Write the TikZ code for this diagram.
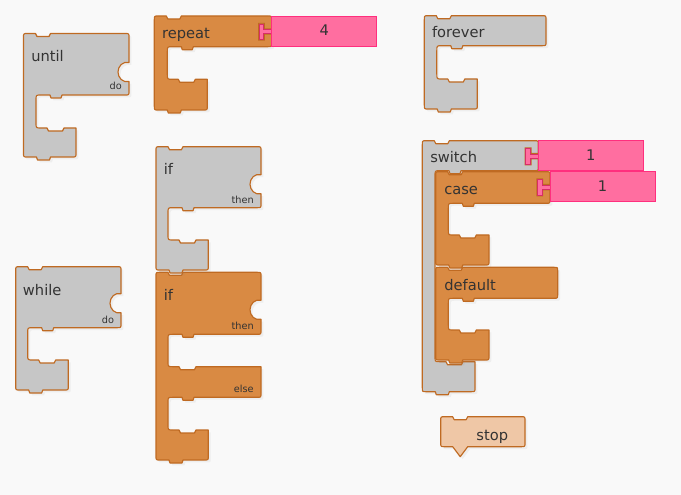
\documentclass[tikz,border=0pt]{standalone}
\usepackage{fontspec}
\setmainfont{DejaVu Sans}
\usetikzlibrary{shadows}
\definecolor{bgc}{HTML}{F9F9F9}
\definecolor{gfill}{HTML}{C6C6C6}
\definecolor{ofill}{HTML}{D98A43}
\definecolor{sfill}{HTML}{EFC7A6}
\definecolor{edgec}{HTML}{BF6A22}
\definecolor{pfill}{HTML}{FF6EA0}
\definecolor{pedge}{HTML}{FF2F7E}
\definecolor{pedgetab}{HTML}{D62F66}
\definecolor{txtc}{HTML}{333333}
\tikzset{
  blk/.style={draw=edgec, line width=0.85pt, line join=round,
    drop shadow={shadow xshift=1.8pt, shadow yshift=-1.8pt, opacity=0.09}},
  gblk/.style={blk, fill=gfill},
  oblk/.style={blk, fill=ofill},
  sblk/.style={blk, fill=sfill},
  lbl/.style={inner sep=0pt, text=txtc, font=\fontsize{11}{13}\selectfont},
  slbl/.style={inner sep=0pt, text=txtc, font=\fontsize{7.3}{9}\selectfont},
  valst/.style={fill=pfill, draw=pedge, line width=0.7pt},
  tabst/.style={fill=pfill, draw=pedgetab, line width=0.6pt},
}
% C-shaped block in local coordinates:
% #1 style, #2 W, #3 h1 (arm bottom), #4 xi, #5 y2, #6 xb, #7 y3, #8 notch centre, #9 notch depth
\newcommand\Cpath[9]{%
  \path[#1] (0,4) .. controls (0,0) .. (4,0) -- (12,0) -- (13.5,3) -- (25.5,3) -- (27,0)
   -- (#2-4,0) .. controls (#2,0) .. (#2,4)
   -- (#2,#8-9.5) .. controls (#2-0.55*#9,#8-11) and (#2-#9,#8-6) .. (#2-#9,#8)
      .. controls (#2-#9,#8+6) and (#2-0.55*#9,#8+11) .. (#2,#8+9.5)
   -- (#2,#3-4) .. controls (#2,#3) .. (#2-4,#3)
   -- (#4+26,#3) -- (#4+25,#3+3) -- (#4+15,#3+3) -- (#4+14,#3)
   -- (#4+5,#3) .. controls (#4,#3) .. (#4,#3+5)
   -- (#4,#5-5) .. controls (#4,#5) .. (#4+5,#5)
   -- (#4+11,#5) -- (#4+12.5,#5+3) -- (#4+26.5,#5+3) -- (#4+28,#5)
   -- (#6,#5) -- (#6,#7-4) .. controls (#6,#7) .. (#6-4,#7)
   -- (27,#7) -- (26,#7+3) -- (14,#7+3) -- (13,#7)
   -- (4,#7) .. controls (0,#7) .. (0,#7-4) -- cycle;}
% value input: #1 W, #2 text, #3 node name
\newcommand\Vin[3]{%
  \path[fill=edgec] (#1-13.7,6.8) -- (#1-6.8,6.8) -- (#1-6.8,12.3) -- (#1,12.3)
     -- (#1,18.7) -- (#1-6.8,18.7) -- (#1-6.8,24.7) -- (#1-13.7,24.7) -- cycle;
  \path[tabst] (#1-12.5,8) -- (#1-8,8) -- (#1-8,13.5) -- (#1+0.5,13.5) -- (#1+0.5,17.5)
     -- (#1-8,17.5) -- (#1-8,23.5) -- (#1-12.5,23.5) -- cycle;
  \path[valst] (#1,0) rectangle (#1+105,30);
  \node[lbl, anchor=base] (#3) at (#1+52.5,20) {#2};}
\begin{document}
\begin{tikzpicture}[x=0.75pt, y=-0.75pt]
\path[fill=bgc] (0,0) rectangle (681,495);
\useasboundingbox (0,0) rectangle (681,495);

% until
\begin{scope}[shift={(23.5,33.5)}]
  \Cpath{gblk}{105.5}{61.5}{12.5}{94.5}{52.5}{123.5}{38.5}{11}
  \node[lbl, anchor=base west] (until) at (7.5,28) {until};
  \node[slbl, anchor=base east] (untildo) at (98.5,56.5) {do};
\end{scope}

% repeat
\begin{scope}[shift={(154.3,16)}]
  \Cpath{oblk}{117.4}{30.7}{13}{63.3}{53}{94}{15}{0}
  \node[lbl, anchor=base west] (repeat) at (7.5,22.5) {repeat};
  \Vin{117.4}{4}{repeatval}
\end{scope}

% forever
\begin{scope}[shift={(424.3,15.7)}]
  \Cpath{gblk}{121.7}{30}{12.5}{63.3}{53}{93.3}{15}{0}
  \node[lbl, anchor=base west] (forever) at (7.5,22.3) {forever};
\end{scope}

% if - else (orange)
\begin{scope}[shift={(156,272.3)}]
  \path[oblk] (0,4) .. controls (0,0) .. (4,0) -- (12,0) -- (13.5,3) -- (25.5,3) -- (27,0)
   -- (101,0) .. controls (105,0) .. (105,4)
   -- (105,28) .. controls (98.95,26.5) and (94,31.5) .. (94,37.5)
      .. controls (94,43.5) and (98.95,48.5) .. (105,47)
   -- (105,58) .. controls (105,62) .. (101,62)
   -- (38,62) -- (37,65) -- (27,65) -- (26,62)
   -- (17,62) .. controls (12,62) .. (12,67)
   -- (12,89.4) .. controls (12,94.4) .. (17,94.4)
   -- (23,94.4) -- (24.5,97.4) -- (38.5,97.4) -- (40,94.4)
   -- (105,94.4) -- (105,121) .. controls (105,125) .. (101,125)
   -- (38,125) -- (37,128) -- (27,128) -- (26,125)
   -- (17,125) .. controls (12,125) .. (12,130)
   -- (12,152.7) .. controls (12,157.7) .. (17,157.7)
   -- (23,157.7) -- (24.5,160.7) -- (38.5,160.7) -- (40,157.7)
   -- (52.3,157.7) -- (52.3,183.7) .. controls (52.3,187.7) .. (48.3,187.7)
   -- (27,187.7) -- (26,190.7) -- (14,190.7) -- (13,187.7)
   -- (4,187.7) .. controls (0,187.7) .. (0,183.7) -- cycle;
  \node[lbl, anchor=base west] (ifelse) at (7.5,28.3) {if};
  \node[slbl, anchor=base east] (ifelsethen) at (98,56.7) {then};
  \node[slbl, anchor=base east] (ifelseelse) at (98,120) {else};
\end{scope}

% if (gray)
\begin{scope}[shift={(156,146.7)}]
  \Cpath{gblk}{105}{61}{12}{93.3}{52.3}{123.3}{37.5}{11}
  \node[lbl, anchor=base west] (ifg) at (7.5,28.3) {if};
  \node[slbl, anchor=base east] (ifgthen) at (98,56.6) {then};
\end{scope}

% while
\begin{scope}[shift={(15.7,266.7)}]
  \Cpath{gblk}{105.3}{61}{12}{93.3}{52.6}{123.3}{36.5}{11}
  \node[lbl, anchor=base west] (while) at (7,28.3) {while};
  \node[slbl, anchor=base east] (whiledo) at (98.6,56.6) {do};
\end{scope}

% switch
\begin{scope}[shift={(422.3,140.7)}]
  \Cpath{gblk}{116}{30}{12.7}{221}{52.7}{251}{15}{0}
  \node[lbl, anchor=base west] (switch) at (7.7,22) {switch};
  \Vin{116}{1}{switchval}
\end{scope}

% case
\begin{scope}[shift={(435.7,171.7)}]
  \Cpath{oblk}{114.3}{31.6}{12.6}{63.3}{53.3}{93.3}{15}{0}
  \node[lbl, anchor=base west] (case) at (8.3,23) {case};
  \Vin{114.3}{1}{caseval}
\end{scope}

% default
\begin{scope}[shift={(435.7,267.3)}]
  \Cpath{oblk}{122}{31}{12.6}{62.7}{53.3}{92.7}{15}{0}
  \node[lbl, anchor=base west] (default) at (8.3,22.7) {default};
\end{scope}

% stop
\begin{scope}[shift={(440.7,416.7)}]
  \path[sblk] (0,4) .. controls (0,0) .. (4,0) -- (12,0) -- (13.5,3) -- (25.5,3) -- (27,0)
   -- (80.3,0) .. controls (84.3,0) .. (84.3,4) -- (84.3,26) .. controls (84.3,30) .. (80.3,30)
   -- (27,30) -- (19.5,40) -- (12,30) -- (4,30) .. controls (0,30) .. (0,26) -- cycle;
  \node[lbl, anchor=base] (stop) at (51.6,23.3) {stop};
\end{scope}
\end{tikzpicture}
\end{document}
